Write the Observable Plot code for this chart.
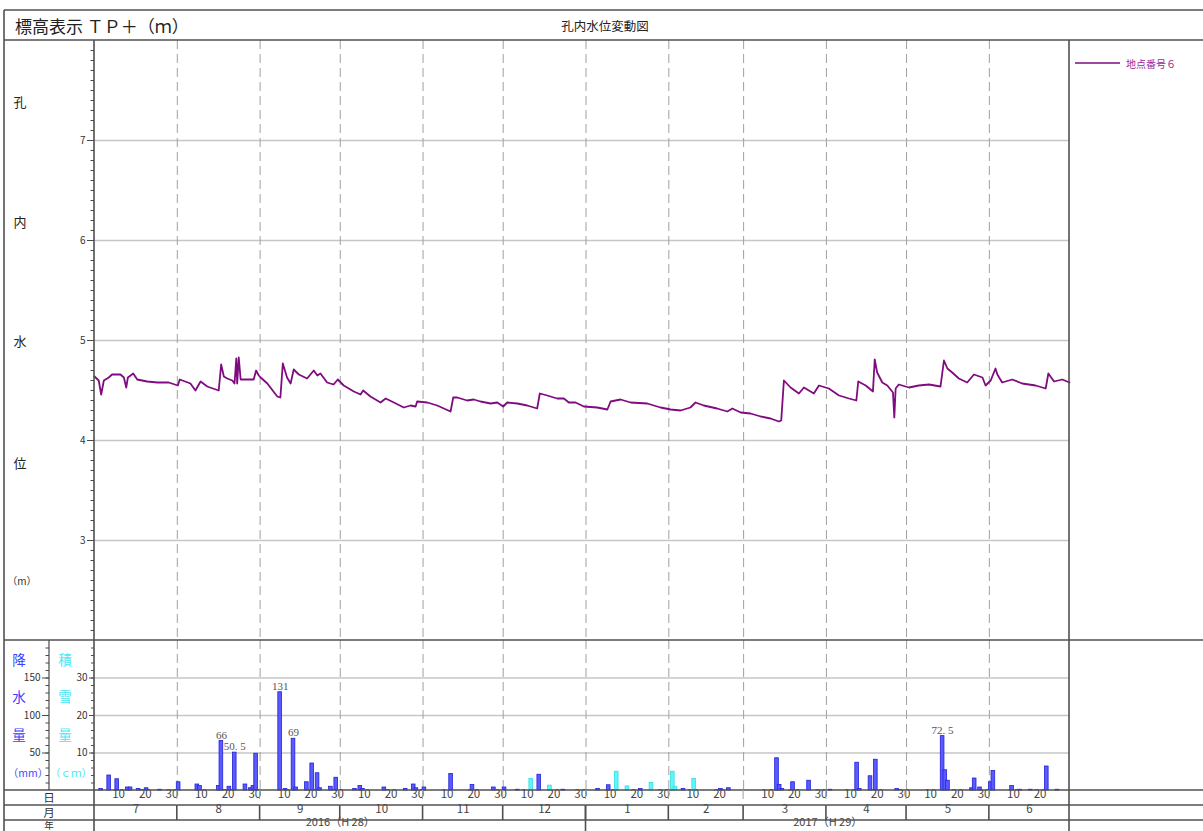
<!DOCTYPE html>
<html><head><meta charset="utf-8">
<script src="https://cdn.jsdelivr.net/npm/d3@7"></script>
<script src="https://cdn.jsdelivr.net/npm/@observablehq/plot@0.6"></script>
<style>
body{margin:0;background:#fff;}
#chart{position:relative;width:1203px;height:831px;overflow:hidden;background:#fff;}
#chart svg{position:absolute;left:0;}
</style></head><body><div id="chart"></div>
<script>
// ---- groundwater level (TP+ m) ----
const levelTimes = [
 "2016-07-01T00","2016-07-02T14","2016-07-03T12","2016-07-04T12","2016-07-06T08","2016-07-07T14","2016-07-10T17","2016-07-12T00","2016-07-12T21","2016-07-13T12","2016-07-15T12","2016-07-17T00","2016-07-20T17","2016-07-24T12","2016-07-28T19",
 "2016-08-01T05","2016-08-01T22","2016-08-05T22","2016-08-07T19","2016-08-09T17","2016-08-12T05","2016-08-16T12","2016-08-17T10","2016-08-18T10","2016-08-19T17","2016-08-21T14","2016-08-22T10","2016-08-23T02","2016-08-23T10","2016-08-24T00","2016-08-24T17","2016-08-27T05","2016-08-29T14","2016-08-30T12","2016-08-31T12",
 "2016-09-01T05","2016-09-03T17","2016-09-07T10","2016-09-08T14","2016-09-09T12","2016-09-11T02","2016-09-12T10","2016-09-13T14","2016-09-15T12","2016-09-18T14","2016-09-21T02","2016-09-22T10","2016-09-23T14","2016-09-26T02","2016-09-28T12","2016-09-30T02",
 "2016-10-02T07","2016-10-06T02","2016-10-08T14","2016-10-09T14","2016-10-12T07","2016-10-16T02","2016-10-18T00","2016-10-21T02","2016-10-24T19","2016-10-27T07","2016-10-29T05","2016-10-29T19",
 "2016-11-02T14","2016-11-06T07","2016-11-08T19","2016-11-11T07","2016-11-12T07","2016-11-13T19","2016-11-17T12","2016-11-20T00","2016-11-22T12","2016-11-26T07","2016-11-28T19",
 "2016-12-01T00","2016-12-02T12","2016-12-06T07","2016-12-10T00","2016-12-13T17","2016-12-14T17","2016-12-17T12","2016-12-21T05","2016-12-23T17","2016-12-25T14","2016-12-28T02","2016-12-31T05",
 "2017-01-05T05","2017-01-09T00","2017-01-10T05","2017-01-13T22","2017-01-17T17","2017-01-23T22","2017-01-28T22",
 "2017-02-01T17","2017-02-05T10","2017-02-09T02","2017-02-11T00","2017-02-14T02","2017-02-19T02","2017-02-22T22","2017-02-24T19","2017-02-27T22",
 "2017-03-03T14","2017-03-07T10","2017-03-11T02","2017-03-14T05","2017-03-15T02","2017-03-16T02","2017-03-18T14","2017-03-21T17","2017-03-23T14","2017-03-27T07","2017-03-29T05",
 "2017-04-01T22","2017-04-05T17","2017-04-09T10","2017-04-12T05","2017-04-12T22","2017-04-15T17","2017-04-18T10","2017-04-19T02","2017-04-20T00","2017-04-21T22","2017-04-23T19","2017-04-25T22","2017-04-26T10","2017-04-26T22","2017-04-28T02",
 "2017-05-01T22","2017-05-05T14","2017-05-09T10","2017-05-13T17","2017-05-15T00","2017-05-16T07","2017-05-18T02","2017-05-20T14","2017-05-23T17","2017-05-26T05","2017-05-29T10","2017-05-30T14",
 "2017-06-01T12","2017-06-03T07","2017-06-04T00","2017-06-05T19","2017-06-09T14","2017-06-13T07","2017-06-18T07","2017-06-22T02","2017-06-23T02","2017-06-25T05","2017-06-28T07",
 "2017-07-01T00"];
const levelValues = [
 4.64,4.60,4.46,4.60,4.63,4.66,4.66,4.63,4.53,4.63,4.67,4.61,4.59,4.58,4.58,
 4.55,4.61,4.57,4.50,4.59,4.54,4.50,4.76,4.64,4.62,4.60,4.57,4.82,4.57,4.83,4.61,4.61,4.61,4.70,4.65,
 4.63,4.57,4.44,4.43,4.77,4.63,4.57,4.71,4.66,4.62,4.70,4.65,4.67,4.58,4.56,4.61,
 4.55,4.49,4.46,4.50,4.44,4.38,4.42,4.38,4.33,4.35,4.34,4.39,
 4.38,4.35,4.32,4.29,4.43,4.43,4.40,4.41,4.39,4.37,4.38,
 4.34,4.38,4.37,4.35,4.32,4.47,4.45,4.42,4.42,4.38,4.38,4.34,
 4.33,4.31,4.39,4.41,4.38,4.37,4.33,
 4.31,4.30,4.33,4.38,4.35,4.32,4.29,4.32,4.28,
 4.27,4.24,4.22,4.19,4.20,4.60,4.53,4.47,4.53,4.47,4.55,
 4.52,4.45,4.42,4.40,4.59,4.55,4.49,4.81,4.68,4.58,4.55,4.48,4.23,4.52,4.56,
 4.53,4.55,4.56,4.54,4.80,4.72,4.68,4.62,4.58,4.66,4.63,4.55,
 4.60,4.72,4.66,4.58,4.61,4.57,4.55,4.52,4.67,4.59,4.61,
 4.58];

// ---- daily precipitation (mm) ----
const rainDates = [
 "2016-07-03","2016-07-06","2016-07-09","2016-07-13","2016-07-14","2016-07-17","2016-07-20","2016-07-25",
 "2016-08-01","2016-08-08","2016-08-09","2016-08-16","2016-08-17","2016-08-20","2016-08-22","2016-08-26","2016-08-28","2016-08-29","2016-08-30",
 "2016-09-08","2016-09-10","2016-09-13","2016-09-14","2016-09-18","2016-09-20","2016-09-22","2016-09-23","2016-09-27","2016-09-29",
 "2016-10-06","2016-10-08","2016-10-09","2016-10-17","2016-10-25","2016-10-28","2016-10-29",
 "2016-11-01","2016-11-11","2016-11-19","2016-11-27",
 "2016-12-01","2016-12-06","2016-12-14","2016-12-23",
 "2017-01-05","2017-01-09","2017-01-21",
 "2017-02-06","2017-02-20","2017-02-23",
 "2017-03-13","2017-03-14","2017-03-15","2017-03-19","2017-03-25",
 "2017-04-02","2017-04-12","2017-04-13","2017-04-17","2017-04-19","2017-04-27",
 "2017-05-14","2017-05-15","2017-05-16","2017-05-25","2017-05-26","2017-05-28",
 "2017-06-01","2017-06-02","2017-06-09","2017-06-12","2017-06-16","2017-06-22","2017-06-26"];
const rainValues = [
 2,20,15,4,4,2,3,1,
 11,8,6,6,66,5,50.5,8,3,6,49,
 131,2,69,4,11,36,23,3,5,17,
 2,6,2,4,2,8,3,
 4,22,7.5,4,
 4,1,21,1,
 2,7,2,
 2,2,3,
 43,7.5,2,11,13,
 1,37,2,19,41,2,
 72.5,27,13,3,16,4,
 11,26,6,1,1,32,1];

// ---- daily snow depth (cm) ----
const snowDates = ["2016-12-11","2016-12-18","2017-01-12","2017-01-16","2017-01-25","2017-02-02","2017-02-03","2017-02-10"];
const snowValues = [3.1,1.3,5,1.1,2,5,1,3.1];

// ---- ticks / labels ----
const levelTicks = [3,4,5,6,7];
const rainTicks = [50,100,150];
const snowTicks = [10,20,30];
const dayTickDays = [10,20,30];
const monthLabels = ["7","8","9","10","11","12","1","2","3","4","5","6"];
const yearLabels = ["2016（H 28）","2017（H 29）"];
const rainLabelMin = 50;

// ------------------------------------------------------------
const parseT = d3.utcParse("%Y-%m-%dT%H");
const parseD = d3.utcParse("%Y-%m-%d");
const start = parseD("2016-07-01"), end = parseD("2017-07-01");
const yearBreak = parseD("2017-01-01");
const level = levelTimes.map((t, i) => ({t: parseT(t), v: levelValues[i]}));
const rain = rainDates.map((d, i) => ({d: parseD(d), mm: rainValues[i]}));
const snow = snowDates.map((d, i) => ({d: parseD(d), cm: snowValues[i]}));
const months = d3.utcMonth.range(start, end);
const innerMonths = months.slice(1);
const dayTicks = months.flatMap(m => dayTickDays
  .map(k => d3.utcDay.offset(m, k - 1))
  .filter(d => d.getUTCMonth() === m.getUTCMonth() && +d3.utcDay.offset(d, 2) <= +end));
const monthMid = months.map((m, i) => ({x: new Date((+m + +d3.utcMonth.offset(m, 1)) / 2), label: monthLabels[i]}));
const yearMid = [
  {x: new Date((+start + +yearBreak) / 2), label: yearLabels[0]},
  {x: new Date((+yearBreak + +end) / 2), label: yearLabels[1]}
];

const W = 1203, H = 831, L = 94, R = 1069;
const FONT = '"Noto Sans CJK JP","Noto Sans",sans-serif';
const SERIF = '"Liberation Serif","DejaVu Serif",serif';
const GRID = "#c6c6c6", DASH = "#a0a0a0", AX = "#4a4a4a";
const styleObj = {background: "transparent", fontFamily: FONT, fontSize: "10px", color: "#333", overflow: "visible"};
const noText = () => "";
const intText = d => String(d);

const chart = document.getElementById("chart");

// upper panel: water level
const levelPlot = Plot.plot({
  width: W, height: 640, marginLeft: L, marginRight: W - R, marginTop: 40, marginBottom: 0,
  style: styleObj,
  x: {type: "utc", domain: [start, end], axis: null},
  y: {domain: [2, 8], axis: null, label: null},
  marks: [
    Plot.ruleY(levelTicks, {stroke: GRID, strokeWidth: 1.6}),
    Plot.ruleX(innerMonths, {stroke: DASH, strokeWidth: 1, strokeDasharray: "9,5"}),
    Plot.axisY({ticks: d3.range(21, 80).map(i => i / 10), anchor: "left", tickSize: 3.5, tickFormat: noText, label: null, stroke: AX}),
    Plot.axisY({ticks: levelTicks, anchor: "left", tickSize: 7, tickPadding: 2, tickFormat: intText, label: null, stroke: AX, fill: "#333", fontSize: 10}),
    Plot.line(level, {x: "t", y: "v", stroke: "#800a80", strokeWidth: 1.8, strokeLinejoin: "round"})
  ]
});
levelPlot.style.top = "0px";

// lower panel: precipitation (mm) — axis at x=49
const rainPlot = Plot.plot({
  width: W, height: 191, marginLeft: 49, marginRight: W - R, marginTop: 0, marginBottom: 41,
  style: styleObj,
  x: {type: "utc", domain: [start, end], range: [L, R], axis: null},
  y: {domain: [0, 200], axis: null, label: null},
  marks: [
    Plot.ruleY(rainTicks, {y: d => d, x1: () => start, x2: () => end, stroke: GRID, strokeWidth: 1.6}),
    Plot.ruleX(innerMonths, {stroke: DASH, strokeWidth: 1, strokeDasharray: "9,5"}),
    Plot.axisY({ticks: d3.range(10, 200, 10), anchor: "left", tickSize: 3.5, tickFormat: noText, label: null, stroke: AX}),
    Plot.axisY({ticks: rainTicks, anchor: "left", tickSize: 7, tickPadding: 2, tickFormat: intText, label: null, stroke: AX, fill: "#333", fontSize: 10}),
    Plot.rectY(rain, {x: "d", y: "mm", interval: d3.utcDay, fill: "#5a5aff", stroke: "#2323d6", strokeWidth: 0.8, insetLeft: -0.5, insetRight: -0.5}),
    Plot.text(rain.filter(d => d.mm >= rainLabelMin), {
      x: d => d3.utcHour.offset(d.d, 12), y: "mm", text: d => String(d.mm).replace(".", ". "),
      dy: -6, fontFamily: SERIF, fontSize: 11, fill: "#555"}),
    Plot.text(dayTicks, {x: d => d, text: d => String(d.getUTCDate()), frameAnchor: "bottom", dy: 7, fontSize: 11.5, fill: "#444"}),
    Plot.text(monthMid, {x: "x", text: "label", frameAnchor: "bottom", dy: 22, fontSize: 11.5, fill: "#444"}),
    Plot.text(yearMid, {x: "x", text: "label", frameAnchor: "bottom", dy: 35, fontSize: 11, fill: "#444"})
  ]
});
rainPlot.style.top = "640px";

// lower panel: snow depth (cm) — axis at x=94
const snowPlot = Plot.plot({
  width: W, height: 191, marginLeft: L, marginRight: W - R, marginTop: 0, marginBottom: 41,
  style: styleObj,
  x: {type: "utc", domain: [start, end], range: [L, R], axis: null},
  y: {domain: [0, 40], axis: null, label: null},
  marks: [
    Plot.axisY({ticks: d3.range(2, 40, 2), anchor: "left", tickSize: 3, tickFormat: noText, label: null, stroke: AX}),
    Plot.axisY({ticks: snowTicks, anchor: "left", tickSize: 5, tickPadding: 2, tickFormat: intText, label: null, stroke: AX, fill: "#333", fontSize: 10}),
    Plot.rectY(snow, {x: "d", y: "cm", interval: d3.utcDay, fill: "#5ff5ff", stroke: "#36dede", strokeWidth: 0.8, insetLeft: -0.5, insetRight: -0.5})
  ]
});
snowPlot.style.top = "640px";

chart.append(rainPlot, snowPlot, levelPlot);

// frame / table lines and fixed labels
const X = d => levelPlot.scale("x").apply(d);
const ov = d3.create("svg").attr("width", W).attr("height", H)
  .style("top", "0px").style("font-family", FONT);
const ln = (x1, y1, x2, y2, stroke = "#505050", w = 1.6, dash = null) =>
  ov.append("line").attr("x1", x1).attr("y1", y1).attr("x2", x2).attr("y2", y2)
    .attr("stroke", stroke).attr("stroke-width", w).attr("stroke-dasharray", dash);
const tx = (x, y, s, size, fill = "#222", anchor = "start", fam = FONT) =>
  ov.append("text").attr("x", x).attr("y", y).attr("font-size", size).attr("fill", fill)
    .attr("text-anchor", anchor).attr("dominant-baseline", "central").attr("font-family", fam).text(s);

ln(4, 10, W, 10);
ln(4, 10, 4, H);
ln(4, 40, W, 40);
ln(4, 640, W, 640);
ln(4, 790, W, 790);
ln(4, 805, W, 805);
ln(4, 820, W, 820);
ln(L, 40, L, H);
ln(R, 40, R, H);
ln(49, 640, 49, 790, AX, 1.2);
innerMonths.forEach(m => {
  ln(X(m), 790, X(m), 805, DASH, 1, "9,5");
  ln(X(m), 805, X(m), 820, "#505050", 1.6);
});
ln(X(yearBreak), 805, X(yearBreak), H, "#505050", 1.6);

tx(15, 25, "標高表示 ＴＰ＋（ｍ）", 17);
tx(605, 25, "孔内水位変動図", 12.5, "#222", "middle");
[["孔", 101], ["内", 221], ["水", 340], ["位", 462]].forEach(([s, y]) => tx(20, y, s, 13, "#222", "middle"));
tx(22, 580, "（m）", 10, "#333", "middle");
[["降", 659], ["水", 696], ["量", 734]].forEach(([s, y]) => tx(19, y, s, 13.5, "#3c3cff", "middle"));
tx(28, 772, "（mm）", 10.5, "#4a4aff", "middle");
[["積", 659], ["雪", 696], ["量", 734]].forEach(([s, y]) => tx(65, y, s, 13.5, "#45e8f5", "middle"));
tx(71, 772, "（ｃｍ）", 10.5, "#45e8f5", "middle");
tx(49, 797, "日", 11.5, "#333", "middle");
tx(49, 812, "月", 11.5, "#333", "middle");
tx(49, 825, "年", 9.5, "#333", "middle");

// legend
ln(1075, 63, 1120, 63, "#800a80", 1.6);
tx(1126, 63, "地点番号６", 10, "#9a2a9a");

chart.append(ov.node());
</script></body></html>
